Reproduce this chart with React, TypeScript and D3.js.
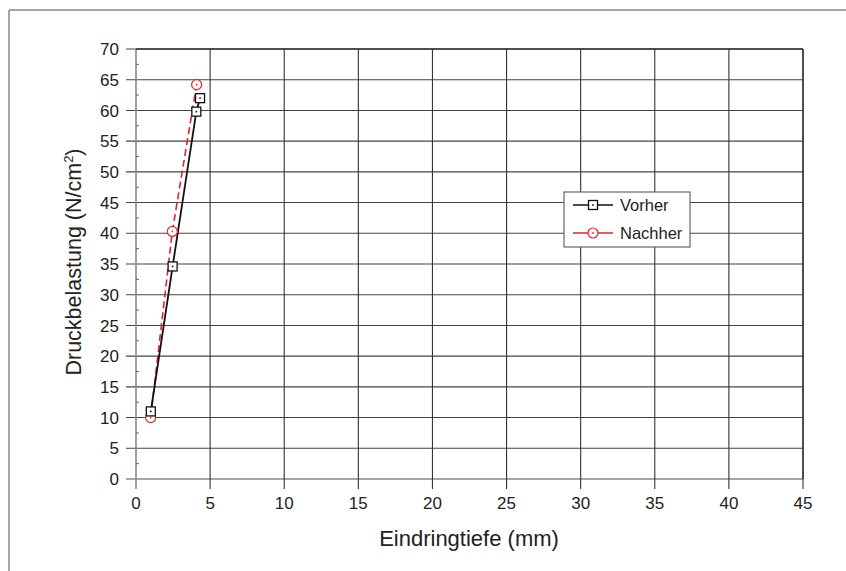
import React from "react";
import * as d3 from "d3";

const vorherX = [1.0, 2.47, 4.07, 4.32];
const vorherY = [11.0, 34.6, 59.8, 62.0];
const nachherX = [0.99, 2.45, 4.09];
const nachherY = [10.0, 40.3, 64.2];
const xTicks = [0, 5, 10, 15, 20, 25, 30, 35, 40, 45];
const yTicks = [0, 5, 10, 15, 20, 25, 30, 35, 40, 45, 50, 55, 60, 65, 70];
const yMinor = d3.range(2.5, 70, 5);
const seriesNames = ["Vorher", "Nachher"];

const W = 846, H = 571;
const FONT = "'Liberation Sans', Arial, Helvetica, sans-serif";

export default function App() {
  const x = d3.scaleLinear().domain([0, 45]).range([136, 803]);
  const y = d3.scaleLinear().domain([0, 70]).range([479, 49]);
  const line = d3.line<[number, number]>().x(d => x(d[0])).y(d => y(d[1]));
  const vPts: [number, number][] = vorherX.map((v, i) => [v, vorherY[i]]);
  const nPts: [number, number][] = nachherX.map((v, i) => [v, nachherY[i]]);

  const square = (cx: number, cy: number, key: string) => (
    <g key={key}>
      <rect x={cx - 4.5} y={cy - 4.5} width={9} height={9} fill="#fff" stroke="#111" strokeWidth={1.3} />
      <rect x={cx - 0.8} y={cy - 0.8} width={1.6} height={1.6} fill="#111" />
    </g>
  );
  const circle = (cx: number, cy: number, key: string) => (
    <g key={key}>
      <circle cx={cx} cy={cy} r={5} fill="#fff" stroke="#e8202a" strokeWidth={1.2} />
      <circle cx={cx} cy={cy} r={0.9} fill="#e8202a" />
    </g>
  );

  const lx0 = 564, ly0 = 192, lw = 126, lh = 55;

  return (
    <div style={{ position: "absolute", left: 0, top: 0 }}>
      <svg width={W} height={H} style={{ display: "block", background: "#fff" }}>
        {/* outer frame */}
        <line x1={9} y1={10} x2={W} y2={10} stroke="#888" strokeWidth={1.5} />
        <line x1={9} y1={10} x2={9} y2={H} stroke="#888" strokeWidth={1.5} />

        {/* horizontal gridlines */}
        {yTicks.map(t => (
          <line key={"hy" + t} x1={126} x2={803} y1={y(t)} y2={y(t)}
            stroke={t === 0 ? "#888" : "#444"} strokeWidth={t === 0 ? 1.6 : 1.1} />
        ))}
        {/* vertical gridlines */}
        {xTicks.map(t => (
          <line key={"vx" + t} x1={x(t)} x2={x(t)} y1={49} y2={489}
            stroke={t === 0 ? "#888" : "#333"} strokeWidth={t === 0 ? 1.6 : 1.1} />
        ))}
        {/* minor ticks */}
        {yMinor.map(t => (
          <line key={"mn" + t} x1={x(0)} x2={x(0) + 3} y1={y(t)} y2={y(t)} stroke="#666" strokeWidth={1} />
        ))}
        <line x1={x(0)} x2={803} y1={49} y2={49} stroke="#333" strokeWidth={1.4} />
        <line x1={803} x2={803} y1={49} y2={479} stroke="#333" strokeWidth={1.4} />

        {/* y tick labels */}
        {yTicks.map(t => (
          <text key={"yl" + t} x={119} y={y(t)} dy="0.36em" textAnchor="end"
            fontFamily={FONT} fontSize={17} fill="#222">{t}</text>
        ))}
        {/* x tick labels */}
        {xTicks.map(t => (
          <text key={"xl" + t} x={x(t)} y={509} textAnchor="middle"
            fontFamily={FONT} fontSize={17} fill="#222">{t}</text>
        ))}

        {/* axis titles */}
        <text x={469} y={546} textAnchor="middle" fontFamily={FONT} fontSize={22} fill="#222">
          Eindringtiefe (mm)
        </text>
        <text transform="translate(81,262) rotate(-90)" textAnchor="middle" fontFamily={FONT} fontSize={21.5} fill="#222">
          Druckbelastung (N/cm<tspan dy={-8} fontSize={13}>2</tspan><tspan dy={8}>)</tspan>
        </text>

        {/* series lines */}
        <path d={line(nPts) || ""} fill="none" stroke="#e8202a" strokeWidth={1.6} strokeDasharray="7,4" />
        <path d={line(vPts) || ""} fill="none" stroke="#111" strokeWidth={1.8} />
        {nPts.map((p, i) => circle(x(p[0]), y(p[1]), "c" + i))}
        {vPts.map((p, i) => square(x(p[0]), y(p[1]), "s" + i))}

        {/* legend */}
        <rect x={lx0} y={ly0} width={lw} height={lh} fill="#fff" stroke="#666" strokeWidth={1.2} />
        <line x1={573} x2={613} y1={205} y2={205} stroke="#111" strokeWidth={1.5} />
        {square(593, 205, "ls")}
        <text x={620} y={205} dy="0.36em" fontFamily={FONT} fontSize={16.5} fill="#222">{seriesNames[0]}</text>
        <line x1={573} x2={613} y1={233} y2={233} stroke="#e8202a" strokeWidth={1.5} />
        {circle(593, 233, "lc")}
        <text x={620} y={233} dy="0.36em" fontFamily={FONT} fontSize={16.5} fill="#222">{seriesNames[1]}</text>
      </svg>
    </div>
  );
}
